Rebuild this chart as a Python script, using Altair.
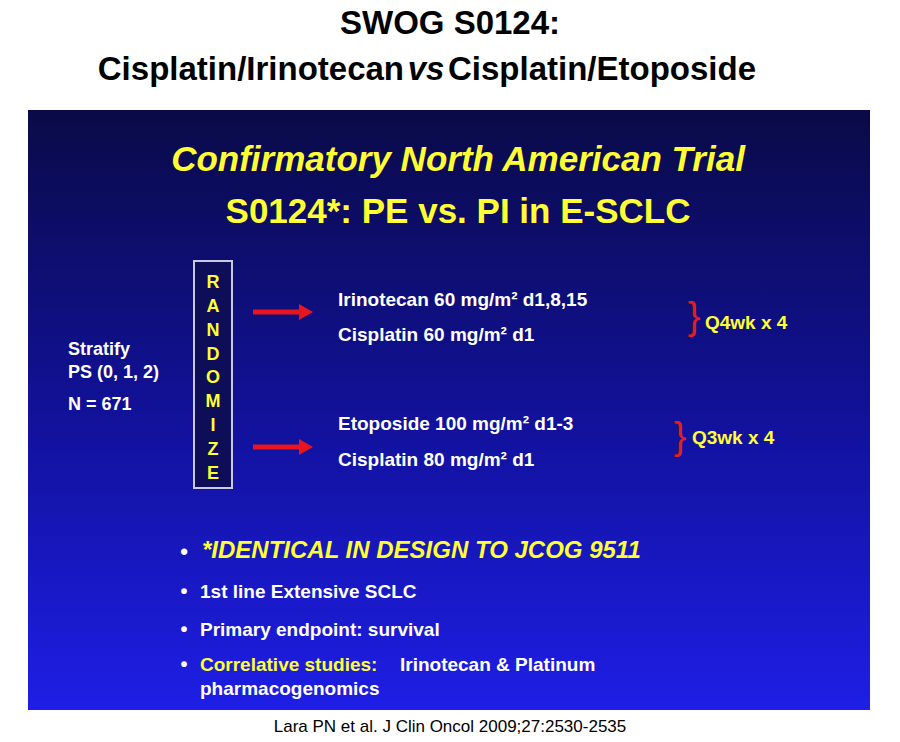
import altair as alt
import pandas as pd

# Slide content (x, y in image pixels)
texts = [
 (450, 24, "SWOG S0124:", "#000000", 33, "bold", "normal", "center"),
 (404, 70, "Cisplatin/Irinotecan", "#000000", 33, "bold", "normal", "right"),
 (426, 70, "vs", "#000000", 33, "bold", "italic", "center"),
 (448, 70, "Cisplatin/Etoposide", "#000000", 33, "bold", "normal", "left"),
 (458, 160, "Confirmatory North American Trial", "#ffff33", 35, "bold", "italic", "center"),
 (458, 212, "S0124*: PE vs. PI in E-SCLC", "#ffff33", 35, "bold", "normal", "center"),
 (68, 350, "Stratify", "#ffffff", 18, "bold", "normal", "left"),
 (68, 373, "PS (0, 1, 2)", "#ffffff", 18, "bold", "normal", "left"),
 (68, 405, "N = 671", "#ffffff", 18, "bold", "normal", "left"),
 (338, 300, "Irinotecan  60 mg/m² d1,8,15", "#ffffff", 19, "bold", "normal", "left"),
 (338, 335, "Cisplatin  60 mg/m² d1", "#ffffff", 19, "bold", "normal", "left"),
 (338, 424, "Etoposide  100 mg/m² d1-3", "#ffffff", 19, "bold", "normal", "left"),
 (338, 460, "Cisplatin  80 mg/m² d1", "#ffffff", 19, "bold", "normal", "left"),
 (694, 318, "}", "#e02020", 38, "normal", "normal", "center"),
 (680, 438, "}", "#e02020", 38, "normal", "normal", "center"),
 (705, 323, "Q4wk x 4", "#ffff33", 19, "bold", "normal", "left"),
 (692, 438, "Q3wk x 4", "#ffff33", 19, "bold", "normal", "left"),
 (184, 552, "•", "#ffffff", 22, "bold", "normal", "center"),
 (202, 551, "*IDENTICAL IN DESIGN TO JCOG 9511", "#ffff33", 24, "bold", "italic", "left"),
 (184, 592, "•", "#ffffff", 20, "bold", "normal", "center"),
 (200, 592, "1st line Extensive SCLC", "#ffffff", 19, "bold", "normal", "left"),
 (184, 630, "•", "#ffffff", 20, "bold", "normal", "center"),
 (200, 630, "Primary endpoint: survival", "#ffffff", 19, "bold", "normal", "left"),
 (184, 665, "•", "#ffffff", 20, "bold", "normal", "center"),
 (200, 665, "Correlative studies:", "#ffff33", 19, "bold", "normal", "left"),
 (400, 665, "Irinotecan & Platinum", "#ffffff", 19, "bold", "normal", "left"),
 (200, 689, "pharmacogenomics", "#ffffff", 19, "bold", "normal", "left"),
 (450, 727, "Lara PN et al. J Clin Oncol 2009;27:2530-2535", "#000000", 17, "normal", "normal", "center"),
]
letters = list("RANDOMIZE")
letter_y = [283, 307, 331, 355, 378, 402, 426, 450, 474]
arrow_y = [312, 447]

for ch, y in zip(letters, letter_y):
    texts.append((213, y, ch, "#ffff33", 18, "bold", "normal", "center"))

df = pd.DataFrame(texts, columns=["x", "y", "text", "color", "size", "weight", "style", "align"])

X = alt.Scale(domain=[8, 892], nice=False, zero=False)
Y = alt.Scale(domain=[8, 734], nice=False, zero=False, reverse=True)

def ex(f="x:Q"):
    return alt.X(f, scale=X, axis=None)

def ey(f="y:Q"):
    return alt.Y(f, scale=Y, axis=None)

bg = alt.Chart(pd.DataFrame({"x": [28], "x2": [870], "y": [110], "y2": [710]})).mark_rect(
    fill=alt.Gradient(gradient="linear", x1=0, x2=0, y1=0, y2=1,
                      stops=[alt.GradientStop(color="#0a0a48", offset=0),
                             alt.GradientStop(color="#1212a0", offset=0.55),
                             alt.GradientStop(color="#1e1ee6", offset=1)])
).encode(x=ex(), x2="x2", y=ey(), y2="y2")

box = alt.Chart(pd.DataFrame({"x": [194], "x2": [232], "y": [261], "y2": [488]})).mark_rect(
    fill="#0e0e58", stroke="#c8c8e0", strokeWidth=2
).encode(x=ex(), x2="x2", y=ey(), y2="y2")

adf = pd.DataFrame({"x": [253] * 2, "x2": [306] * 2, "y": arrow_y})
shaft = alt.Chart(adf).mark_rule(color="#e8141e", strokeWidth=5).encode(
    x=ex(), x2="x2", y=ey())
head = alt.Chart(adf).mark_point(shape="triangle-right", filled=True, color="#e8141e", size=260, opacity=1).encode(
    x=ex("x2:Q"), y=ey())

layers = [bg, box, shaft, head]
for (w, s, a), g in df.groupby(["weight", "style", "align"]):
    layers.append(alt.Chart(g).mark_text(font="Liberation Sans", fontWeight=w, fontStyle=s,
                                         align=a, baseline="middle").encode(
        x=ex(), y=ey(), text="text:N",
        color=alt.Color("color:N", scale=None), size=alt.Size("size:Q", scale=None)))

chart = alt.layer(*layers).properties(width=884, height=726, padding=0,
                                      autosize=alt.AutoSizeParams(type="none"),
                                      background="white").configure_view(stroke=None)
chart.save("out.html", embed_options={"renderer": "svg", "actions": False})
